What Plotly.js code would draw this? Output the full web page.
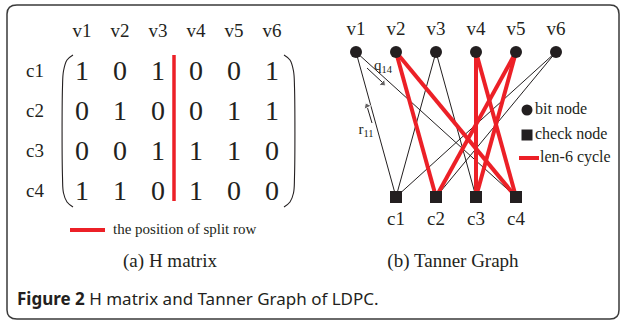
<!DOCTYPE html>
<html><head><meta charset="utf-8">
<script src="https://cdn.plot.ly/plotly-3.0.1.min.js"></script>
<style>html,body{margin:0;padding:0;background:#fff}#chart{width:625px;height:323px}</style>
</head><body><div id="chart"></div>
<script>
// ---- data ----
const bitNodes = ['v1','v2','v3','v4','v5','v6'];
const checkNodes = ['c1','c2','c3','c4'];
const H = [
  [1,0,1,0,0,1],
  [0,1,0,0,1,1],
  [0,0,1,1,1,0],
  [1,1,0,1,0,0]
];
const cycleEdges = [['c2','v2'],['c4','v2'],['c3','v4'],['c4','v4'],['c2','v5'],['c3','v5']];
const splitAfterColumn = 3;
const legendA = ['the position of split row'];
const legendB = ['bit node','check node','len-6 cycle'];
const messageLabels = ['q<sub>14</sub>','r<sub>11</sub>'];
const panelTitles = ['(a) H matrix','(b) Tanner Graph'];
const caption = '<b>Figure 2</b> H matrix and Tanner Graph of LDPC.';

// ---- layout geometry ----
const RED = '#ec2027', INK = '#231f20';
const SERIF = 'Liberation Serif, Times New Roman, serif';
const A = {x0:82, dx:38, y0:72, dy:40, labelY:32, rowLabelX:35};
const B = {x0:356, dx:40, bitY:52, checkX0:396, checkY:197, bitLabelY:30, checkLabelY:220};
const colX = j => A.x0 + A.dx*j;
const rowY = i => A.y0 + A.dy*i;
const bitX = j => B.x0 + B.dx*j;
const checkX = i => B.checkX0 + B.dx*i;

const traces = [];
// panel (a): labels
traces.push({x: bitNodes.map((_,j)=>colX(j)), y: bitNodes.map(()=>A.labelY), text: bitNodes,
  mode:'text', textfont:{family:SERIF,size:19,color:INK}, hoverinfo:'skip'});
traces.push({x: checkNodes.map(()=>A.rowLabelX), y: checkNodes.map((_,i)=>rowY(i)), text: checkNodes,
  mode:'text', textfont:{family:SERIF,size:19,color:INK}, hoverinfo:'skip'});
// matrix entries
const mx=[], my=[], mt=[];
H.forEach((row,i)=>row.forEach((v,j)=>{mx.push(colX(j)); my.push(rowY(i)+1); mt.push(String(v));}));
traces.push({x:mx, y:my, text:mt, mode:'text', textfont:{family:SERIF,size:28,color:INK}, hoverinfo:'skip'});
// parentheses (curved)
const pTop = rowY(0)-17, pBot = rowY(H.length-1)+15;
const lpx = colX(0)-9, rpx = colX(bitNodes.length-1)+12;
const parenDx = [0,-6,-9.5,-10.5,-10.5,-9.5,-6,0];
const parenY = [pTop, pTop+5, pTop+16, pTop+32, pBot-30, pBot-14, pBot-5, pBot];
traces.push({x:parenDx.map(d=>lpx+d), y:parenY, mode:'lines', line:{shape:'spline',color:INK,width:1.1}, hoverinfo:'skip'});
traces.push({x:parenDx.map(d=>rpx-d), y:parenY, mode:'lines', line:{shape:'spline',color:INK,width:1.1}, hoverinfo:'skip'});
// split line
const sx = (colX(splitAfterColumn-1)+colX(splitAfterColumn))/2 - 3;
traces.push({x:[sx,sx], y:[pTop,pBot-6], mode:'lines', line:{color:RED,width:3.5}, hoverinfo:'skip'});
// legend (a)
traces.push({x:[70,105], y:[230,230], mode:'lines', line:{color:RED,width:4}, hoverinfo:'skip'});
traces.push({x:[113], y:[230], text:legendA, mode:'text', textposition:'middle right',
  textfont:{family:SERIF,size:15,color:INK}, hoverinfo:'skip'});

// panel (b): edges
const isCycle = (c,v) => cycleEdges.some(e=>e[0]===c && e[1]===v);
const bx=[], by=[], rx=[], ry=[];
H.forEach((row,i)=>row.forEach((v,j)=>{
  if(!v) return;
  const tx = isCycle(checkNodes[i],bitNodes[j]) ? [rx,ry] : [bx,by];
  tx[0].push(bitX(j), checkX(i), null); tx[1].push(B.bitY, B.checkY, null);
}));
traces.push({x:bx, y:by, mode:'lines', line:{color:INK,width:1}, hoverinfo:'skip'});
traces.push({x:rx, y:ry, mode:'lines', line:{color:RED,width:4}, hoverinfo:'skip'});
// nodes
traces.push({x:bitNodes.map((_,j)=>bitX(j)), y:bitNodes.map(()=>B.bitY), mode:'markers',
  marker:{symbol:'circle',size:12,color:INK}, hoverinfo:'skip'});
traces.push({x:checkNodes.map((_,i)=>checkX(i)), y:checkNodes.map(()=>B.checkY), mode:'markers',
  marker:{symbol:'square',size:12,color:INK}, hoverinfo:'skip'});
traces.push({x:bitNodes.map((_,j)=>bitX(j)), y:bitNodes.map(()=>B.bitLabelY), text:bitNodes, mode:'text',
  textfont:{family:SERIF,size:19,color:INK}, hoverinfo:'skip'});
traces.push({x:checkNodes.map((_,i)=>checkX(i)), y:checkNodes.map(()=>B.checkLabelY), text:checkNodes, mode:'text',
  textfont:{family:SERIF,size:19,color:INK}, hoverinfo:'skip'});
// legend (b)
traces.push({x:[527], y:[110], mode:'markers', marker:{symbol:'circle',size:11,color:INK}, hoverinfo:'skip'});
traces.push({x:[527], y:[135], mode:'markers', marker:{symbol:'square',size:11,color:INK}, hoverinfo:'skip'});
traces.push({x:[519,539], y:[158,158], mode:'lines', line:{color:RED,width:4}, hoverinfo:'skip'});
traces.push({x:[535,535,540], y:[110,135,158], text:legendB, mode:'text', textposition:'middle right',
  textfont:{family:SERIF,size:16,color:INK}, hoverinfo:'skip'});
// message arrows (q14 along v1->c4, r11 along c1->v1)
traces.push({x:[367,382], y:[68,82], mode:'lines', line:{color:INK,width:1}, hoverinfo:'skip'});
traces.push({x:[372,367.5], y:[123,108], mode:'lines', line:{color:INK,width:1}, hoverinfo:'skip'});
traces.push({x:[375.5,383,371.5,367], y:[76,83.5,115,106], mode:'markers',
  marker:{symbol:'triangle-up',size:[0,7,0,7],angleref:'previous',color:INK}, hoverinfo:'skip'});
traces.push({x:[383,366], y:[66,130], text:messageLabels, mode:'text',
  textfont:{family:SERIF,size:15,color:INK}, hoverinfo:'skip'});
// panel titles
traces.push({x:[170,453], y:[262,262], text:panelTitles, mode:'text',
  textfont:{family:SERIF,size:19,color:INK}, hoverinfo:'skip'});

const annotations = [
  {x:15, y:298, xref:'x', yref:'y', xanchor:'left', yanchor:'middle', text:caption, showarrow:false,
   font:{family:'Noto Sans, Open Sans, sans-serif', size:17, color:INK}}
];

const layout = {
  width:625, height:323, margin:{l:0,r:0,t:0,b:0},
  paper_bgcolor:'#fff', plot_bgcolor:'#fff', showlegend:false,
  xaxis:{range:[0,625], visible:false, fixedrange:true},
  yaxis:{range:[323,0], visible:false, fixedrange:true},
  shapes:[{type:'path', xref:'x', yref:'y',
    path:'M 17,5 L 610,5 Q 619,5 619,14 L 619,310 Q 619,319 610,319 L 17,319 Q 7,319 7,310 L 7,14 Q 7,5 17,5 Z',
    line:{color:'#3a3a3a', width:1.5}}],
  annotations
};
Plotly.newPlot('chart', traces, layout, {staticPlot:true, displayModeBar:false});
</script></body></html>
